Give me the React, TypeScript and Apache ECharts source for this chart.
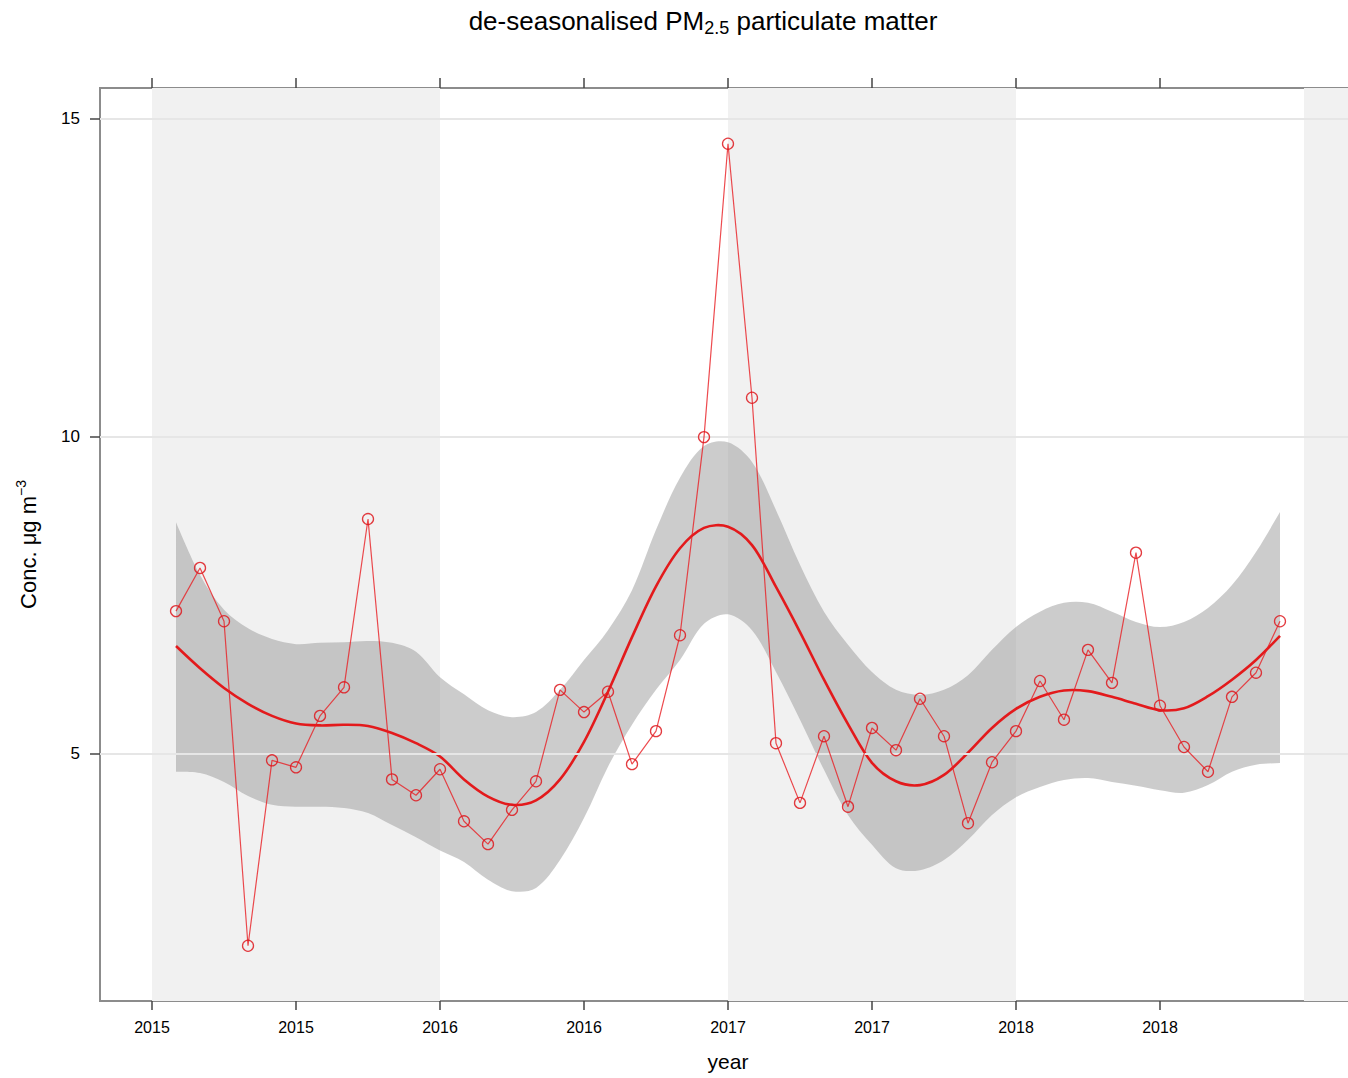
import React, { useEffect, useRef } from "react";
import * as echarts from "echarts";

const months = [
  "2015-02", "2015-03", "2015-04", "2015-05", "2015-06", "2015-07", "2015-08", "2015-09", "2015-10", "2015-11", "2015-12",
  "2016-01", "2016-02", "2016-03", "2016-04", "2016-05", "2016-06", "2016-07", "2016-08", "2016-09", "2016-10", "2016-11", "2016-12",
  "2017-01", "2017-02", "2017-03", "2017-04", "2017-05", "2017-06", "2017-07", "2017-08", "2017-09", "2017-10", "2017-11", "2017-12",
  "2018-01", "2018-02", "2018-03", "2018-04", "2018-05", "2018-06", "2018-07", "2018-08", "2018-09", "2018-10", "2018-11", "2018-12",
];

const observed = [
  7.25, 7.93, 7.09, 1.98, 4.9, 4.79, 5.6, 6.05, 8.7, 4.6, 4.35,
  4.76, 3.94, 3.58, 4.12, 4.57, 6.01, 5.66, 5.98, 4.84, 5.36, 6.87, 9.99,
  14.61, 10.61, 5.17, 4.23, 5.28, 4.17, 5.41, 5.06, 5.87, 5.28, 3.91, 4.87,
  5.36, 6.15, 5.54, 6.64, 6.12, 8.17, 5.76, 5.11, 4.72, 5.9, 6.28, 7.09,
];

const trend = [
  6.7, 6.35, 6.04, 5.79, 5.6, 5.48, 5.45, 5.46, 5.44, 5.33, 5.17,
  4.96, 4.6, 4.33, 4.2, 4.27, 4.6, 5.19, 5.98, 6.84, 7.64, 8.24, 8.56,
  8.58, 8.29, 7.63, 6.92, 6.17, 5.47, 4.86, 4.57, 4.51, 4.67, 5.02, 5.41,
  5.71, 5.9, 6.0, 5.99, 5.9, 5.79, 5.69, 5.72, 5.91, 6.17, 6.48, 6.86,
];

const bandUpper = [
  8.65, 7.82, 7.27, 6.98, 6.81, 6.73, 6.75, 6.76, 6.78, 6.75, 6.61,
  6.21, 5.94, 5.69, 5.58, 5.66, 6.01, 6.48, 6.95, 7.58, 8.53, 9.35, 9.85,
  9.91, 9.6, 8.84, 7.98, 7.24, 6.72, 6.29, 6.01, 5.93, 6.01, 6.24, 6.64,
  7.0, 7.24, 7.38, 7.38, 7.24, 7.08, 7.0, 7.08, 7.3, 7.66, 8.18, 8.81,
];

const bandLower = [
  4.72, 4.7, 4.56, 4.34, 4.2, 4.17, 4.17, 4.15, 4.07, 3.88, 3.69,
  3.48, 3.3, 3.02, 2.84, 2.89, 3.33, 3.99, 4.8, 5.46, 6.01, 6.48, 7.05,
  7.2, 6.95, 6.29, 5.54, 4.75, 4.04, 3.57, 3.2, 3.17, 3.33, 3.65, 4.04,
  4.32, 4.48, 4.59, 4.62, 4.56, 4.5, 4.43, 4.39, 4.51, 4.72, 4.83, 4.86,
];

const xTickValues = [2015, 2015.5, 2016, 2016.5, 2017, 2017.5, 2018, 2018.5];
const yTickValues = [5, 10, 15];
const shadedYears = [[2015, 2016], [2017, 2018], [2019, 2020]];

const XMIN = 2014.8194;
const XMAX = 2019.1806;
const YMIN = 1.11;
const YMAX = 15.488;
const FONT = "Liberation Sans, Arial, Helvetica, sans-serif";

const toYear = (m: string) => {
  const [y, mo] = m.split("-").map(Number);
  return y + (mo - 1) / 12;
};

export default function App() {
  const ref = useRef<HTMLDivElement>(null);

  useEffect(() => {
    document.body.style.overflow = "hidden";
    const chart = echarts.init(ref.current!, undefined, { renderer: "svg" });
    const xs = months.map(toYear);
    const pairs = (vals: number[]) => xs.map((x, i) => [x, vals[i]]);

    chart.setOption({
      animation: false,
      backgroundColor: "#ffffff",
      textStyle: { fontFamily: FONT },
      graphic: [
        {
          type: "text",
          x: 703,
          y: 21,
          style: {
            text: "{a|de-seasonalised PM}{s|2.5}{a| particulate matter}",
            align: "center",
            verticalAlign: "middle",
            fill: "#000",
            rich: {
              a: { fontSize: 26, lineHeight: 32, fontFamily: FONT, fill: "#000" },
              s: { fontSize: 18, lineHeight: 15, verticalAlign: "bottom", fontFamily: FONT, fill: "#000" },
            },
          },
        },
      ],
      grid: {
        left: 100,
        top: 88,
        right: 4,
        bottom: 77,
        show: true,
        borderColor: "#8c8c8c",
        borderWidth: 2,
        backgroundColor: "#ffffff",
      },
      xAxis: [
        {
          type: "value",
          min: XMIN,
          max: XMAX,
          position: "bottom",
          axisLine: { show: true, onZero: false, lineStyle: { color: "#8c8c8c", width: 2 } },
          axisTick: { show: true, customValues: xTickValues, length: 9, lineStyle: { color: "#444", width: 1.5 } },
          axisLabel: {
            customValues: xTickValues,
            formatter: (v: number) => String(Math.floor(v + 1e-6)),
            fontSize: 16,
            color: "#000",
            margin: 18,
            fontFamily: FONT,
          },
          splitLine: { show: false },
          name: "year",
          nameLocation: "middle",
          nameGap: 50,
          nameTextStyle: { fontSize: 21, color: "#000", fontFamily: FONT },
        },
        {
          type: "value",
          min: XMIN,
          max: XMAX,
          position: "top",
          axisLine: { show: true, onZero: false, lineStyle: { color: "#8c8c8c", width: 2 } },
          axisTick: { show: true, customValues: xTickValues, length: 10, lineStyle: { color: "#444", width: 1.5 } },
          axisLabel: { show: false },
          splitLine: { show: false },
        },
      ],
      yAxis: {
        type: "value",
        min: YMIN,
        max: YMAX,
        axisLine: { show: true, onZero: false, lineStyle: { color: "#8c8c8c", width: 2 } },
        axisTick: { show: true, customValues: yTickValues, length: 10, lineStyle: { color: "#444", width: 1.5 } },
        axisLabel: { customValues: yTickValues, fontSize: 17, color: "#000", margin: 20, fontFamily: FONT },
        splitLine: { show: false },
        name: "{a|Conc. μg m}{s|−3}",
        nameLocation: "middle",
        nameGap: 58,
        nameTextStyle: {
          color: "#000",
          rich: {
            a: { fontSize: 22, lineHeight: 28, fontFamily: FONT, color: "#000" },
            s: { fontSize: 14, lineHeight: 12, verticalAlign: "top", fontFamily: FONT, color: "#000" },
          },
        },
      },
      series: [
        {
          name: "stripes",
          type: "line",
          data: [],
          symbol: "none",
          silent: true,
          z: 1,
          markArea: {
            silent: true,
            itemStyle: { color: "#f1f1f1" },
            data: shadedYears.map(([a, b]) => [{ xAxis: a }, { xAxis: b }]),
          },
          markLine: {
            silent: true,
            symbol: ["none", "none"],
            label: { show: false },
            lineStyle: { color: "#e6e6e6", width: 2, type: "solid" },
            data: yTickValues.map((v) => ({ yAxis: v })),
          },
        },
        {
          name: "band",
          type: "custom",
          data: [[xs[0], bandLower[0]]],
          silent: true,
          z: 2,
          renderItem: (_params: any, api: any) => {
            const n = xs.length;
            const top = xs.map((x, i) => api.coord([x, bandUpper[i]]));
            const bottom = xs.map((x, i) => api.coord([x, bandLower[i]])).reverse();
            const pts = [...top, top[n - 1], bottom[0], ...bottom];
            return {
              type: "polyline",
              shape: { points: pts, smooth: 0.33 },
              style: { fill: "rgba(146,146,146,0.47)", stroke: null, lineWidth: 0 },
            };
          },
        },
        {
          name: "trend",
          type: "custom",
          data: [[xs[0], trend[0]]],
          silent: true,
          z: 4,
          renderItem: (_params: any, api: any) => {
            const pts = xs.map((x, i) => api.coord([x, trend[i]]));
            return {
              type: "polyline",
              shape: { points: pts, smooth: 0.33 },
              style: { fill: null, stroke: "#e31a1c", lineWidth: 2.6 },
            };
          },
        },
        {
          name: "observed",
          type: "line",
          data: pairs(observed),
          symbol: "circle",
          symbolSize: 11,
          showSymbol: true,
          itemStyle: { color: "rgba(0,0,0,0)", borderColor: "rgba(222,25,30,0.85)", borderWidth: 1.3 },
          lineStyle: { color: "rgba(232,30,35,0.8)", width: 1.2 },
          z: 5,
        },
      ],
    });
    return () => chart.dispose();
  }, []);

  return (
    <div
      ref={ref}
      style={{ position: "absolute", left: 0, top: 0, width: 1360, height: 1078 }}
    />
  );
}
